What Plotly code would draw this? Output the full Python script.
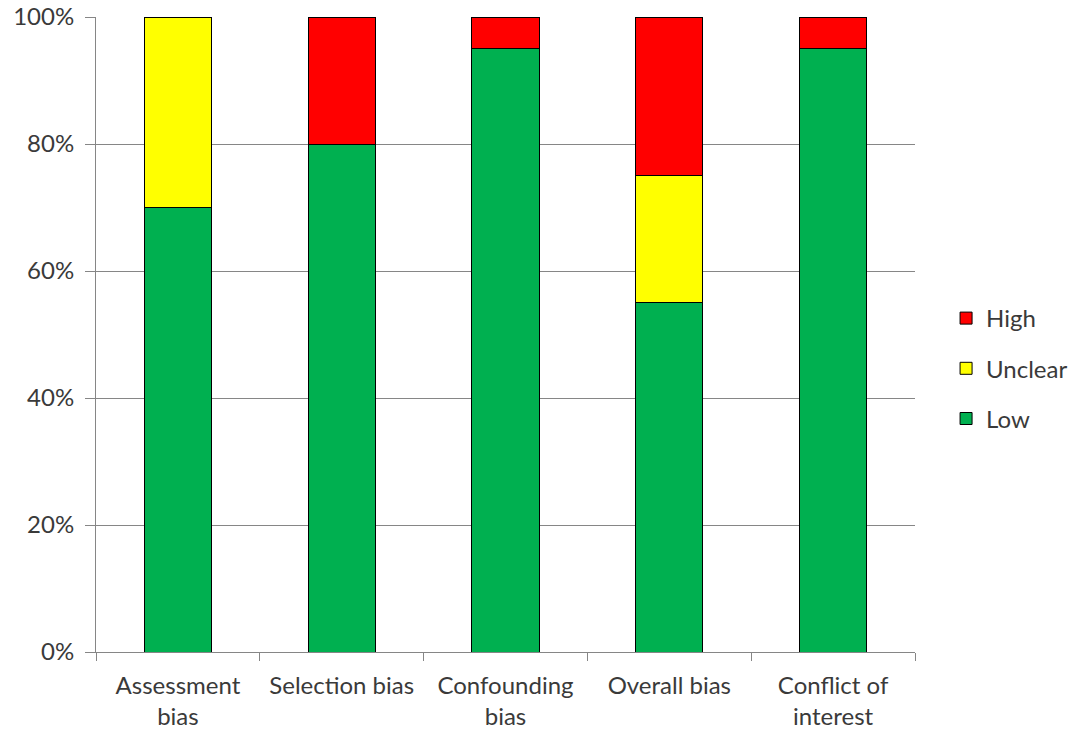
import plotly.graph_objects as go

categories = ["Assessment<br>bias", "Selection bias", "Confounding<br>bias", "Overall bias", "Conflict of<br>interest"]
low = [70, 80, 95, 55, 95]
unclear = [30, 0, 0, 20, 0]
high = [0, 20, 5, 25, 5]
tick_vals = [0, 20, 40, 60, 80, 100]
tick_text = ["0%", "20%", "40%", "60%", "80%", "100%"]

series = [("Low", low, "#00B050", 3), ("Unclear", unclear, "#FFFF00", 2), ("High", high, "#FF0000", 1)]

fig = go.Figure()
for name, vals, col, rank in series:
    fig.add_trace(go.Bar(
        x=categories, y=[v if v else None for v in vals], name=name,
        marker=dict(color=col, line=dict(color="#000000", width=1)),
        legendgroup=name, legendrank=rank,
    ))

fig.update_layout(
    barmode="stack",
    bargap=0.59,
    width=1069, height=737,
    margin=dict(l=96, r=154, t=17, b=85, autoexpand=False),
    plot_bgcolor="white", paper_bgcolor="white",
    font=dict(family="Lato, Open Sans, sans-serif", size=24, color="#3a3a3a"),
    legend=dict(traceorder="grouped", xref="container", yref="container",
                x=0.885, y=0.5, yanchor="middle", xanchor="left",
                tracegroupgap=16, font=dict(size=24), itemwidth=30),
    showlegend=True,
)
fig.update_xaxes(
    showline=True, linecolor="#868686", linewidth=1,
    ticks="outside", tickson="boundaries", ticklen=8, tickcolor="#868686",
    showgrid=False, automargin=False, ticklabelstandoff=12,
)
fig.update_yaxes(
    range=[0, 100], tickvals=tick_vals, ticktext=tick_text,
    showline=True, linecolor="#868686", linewidth=1,
    ticks="outside", ticklen=10, tickcolor="#868686",
    showgrid=True, gridcolor="#868686", gridwidth=1,
    zeroline=False, automargin=False, ticklabelstandoff=6,
)
fig.write_html("out.html")
